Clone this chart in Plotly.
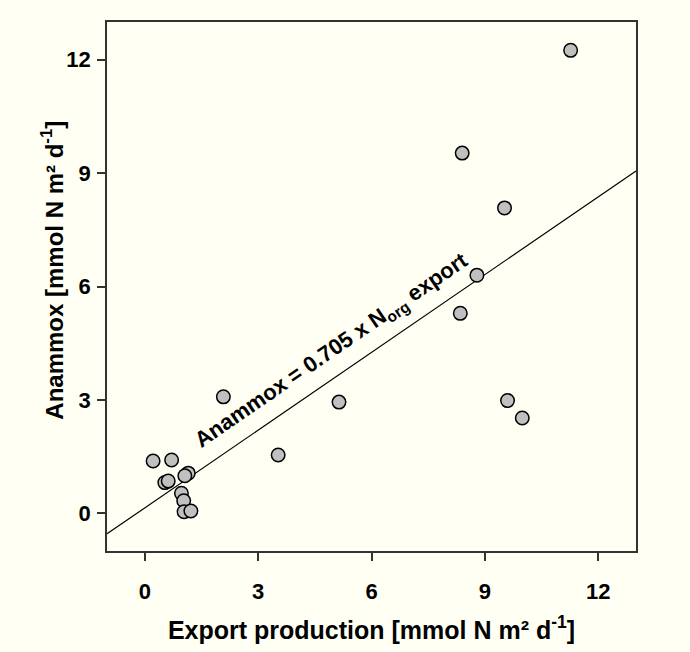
import plotly.graph_objects as go

# Data
export_prod = [0.22, 0.71, 0.53, 0.62, 1.15, 1.06, 0.97, 1.03, 1.04, 1.22,
               3.53, 2.08, 5.14, 8.35, 8.79, 8.40, 9.52, 9.60, 9.99, 11.27]
anammox = [1.38, 1.41, 0.81, 0.85, 1.06, 0.99, 0.53, 0.33, 0.04, 0.06,
           1.54, 3.08, 2.94, 5.29, 6.30, 9.53, 8.08, 2.98, 2.52, 12.25]

fit_slope = 0.686
fit_intercept = 0.14
fit_x = [-1, 13]

tick_vals = [0, 3, 6, 9, 12]
tick_text = ["0", "3", "6", "9", "12"]

BG = "#FFFFF4"
FONT = "Liberation Sans, Arial, sans-serif"

fit_y = [fit_slope * v + fit_intercept for v in fit_x]

fig = go.Figure()
fig.add_trace(go.Scatter(x=fit_x, y=fit_y, mode="lines",
                         line=dict(color="black", width=1.2),
                         hoverinfo="skip", showlegend=False))
fig.add_trace(go.Scatter(x=export_prod, y=anammox, mode="markers",
                         marker=dict(size=13.5, color="#C0C0C0",
                                     line=dict(color="black", width=1.5)),
                         showlegend=False))

fig.add_annotation(x=4.95, y=4.3, xref="x", yref="y",
                   text="<b>Anammox = 0.705 x N<sub>org</sub> export</b>",
                   textangle=-34.5, showarrow=False,
                   font=dict(family=FONT, size=22, color="black"))

fig.add_annotation(x=-0.136, y=0.53, xref="paper", yref="paper",
                   text="<b>Anammox [mmol N m² d<sup>-1</sup>]</b>",
                   textangle=-90, showarrow=False,
                   font=dict(family=FONT, size=24, color="black"))

fig.update_layout(
    width=690, height=652,
    margin=dict(l=107, r=54, t=22, b=101),
    paper_bgcolor=BG, plot_bgcolor=BG,
    font=dict(family=FONT, color="black"),
)
fig.update_xaxes(range=[-1, 13], tickvals=tick_vals, ticktext=tick_text,
                 ticks="outside", ticklen=8, tickwidth=1.5, tickcolor="#333",
                 showline=True, linecolor="#333", linewidth=1.5, mirror=True,
                 showgrid=False, zeroline=False,
                 tickfont=dict(family=FONT, size=22, color="black", weight="bold"),
                 ticklabelstandoff=12,
                 title=dict(text="<b>Export production [mmol N m² d<sup>-1</sup>]</b>",
                            font=dict(family=FONT, size=25, color="black"),
                            standoff=18))
fig.update_yaxes(range=[-1, 13], tickvals=tick_vals, ticktext=tick_text,
                 ticks="outside", ticklen=8, tickwidth=1.5, tickcolor="#333",
                 showline=True, linecolor="#333", linewidth=1.5, mirror=True,
                 showgrid=False, zeroline=False,
                 tickfont=dict(family=FONT, size=22, color="black", weight="bold"),
                 ticklabelstandoff=2)

fig.write_html("out.html")
